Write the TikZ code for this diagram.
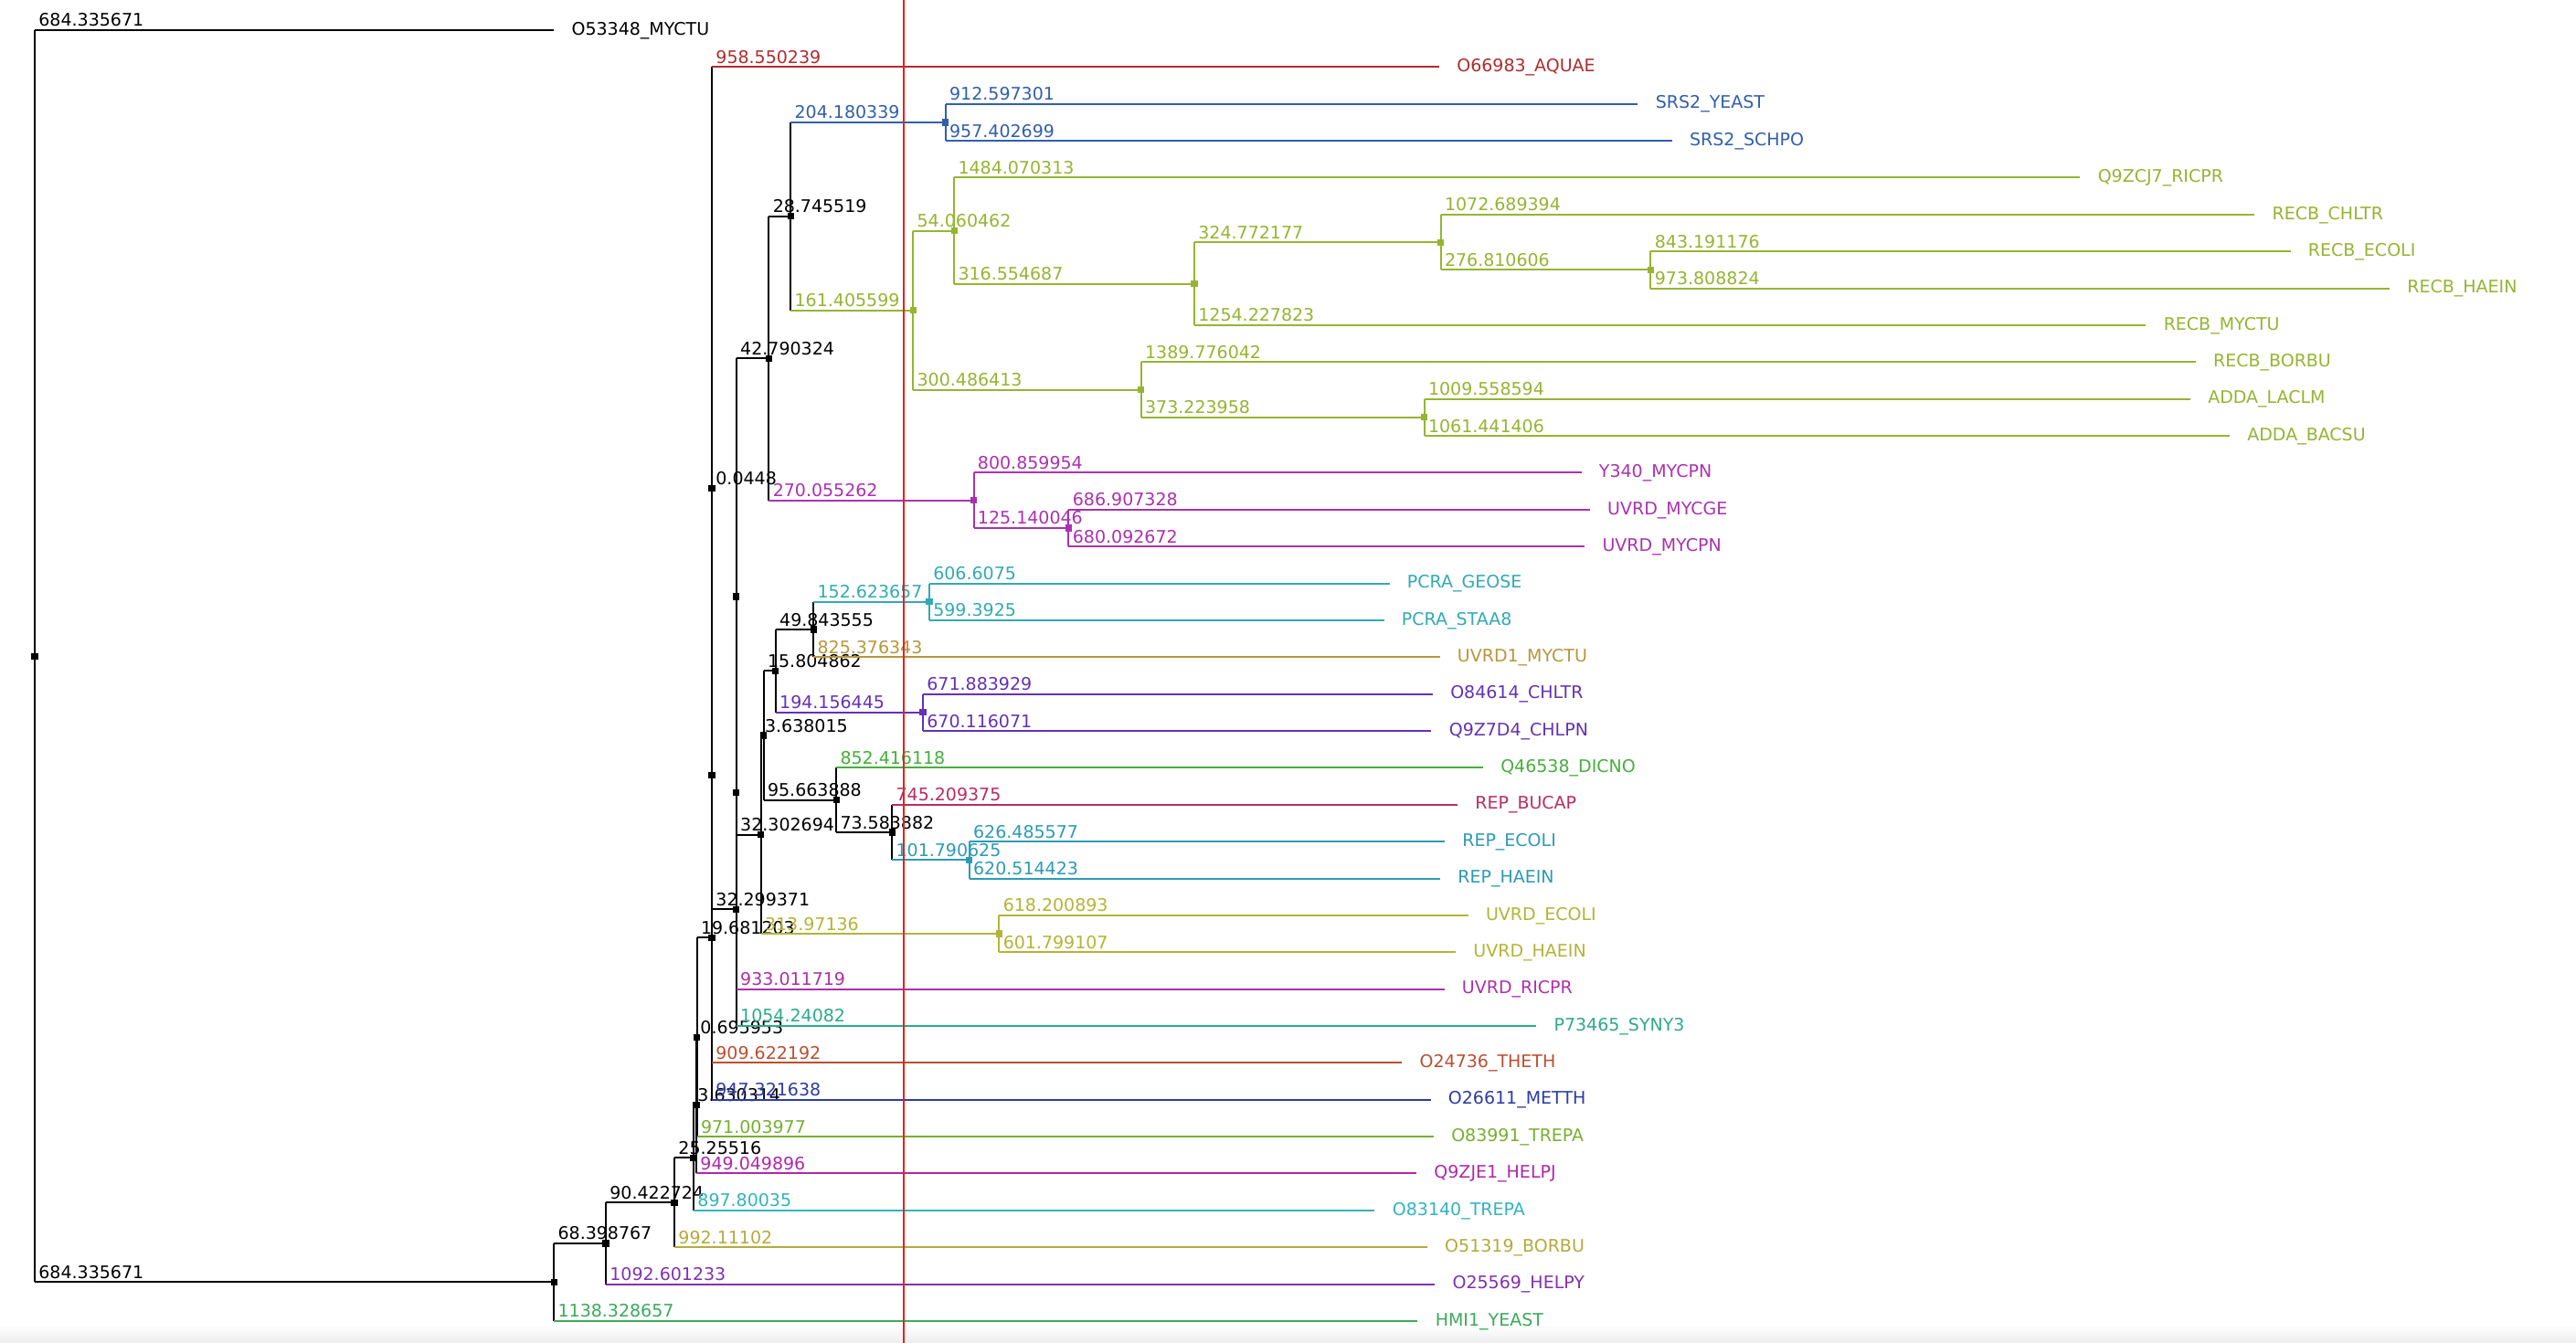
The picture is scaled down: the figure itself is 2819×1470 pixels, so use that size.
\documentclass[tikz,border=0pt]{standalone}
\usepackage{fontspec}
\setmainfont{DejaVu Sans}
\newcommand{\lblfont}{\fontsize{9.5}{11}\selectfont}
\definecolor{cAq}{RGB}{175,45,45}
\definecolor{cBlue}{RGB}{50,95,170}
\definecolor{cRecb}{RGB}{150,180,50}
\definecolor{cMyc}{RGB}{170,50,175}
\definecolor{cPcra}{RGB}{50,170,180}
\definecolor{cUvrdone}{RGB}{185,150,60}
\definecolor{cChl}{RGB}{100,50,180}
\definecolor{cDic}{RGB}{70,175,60}
\definecolor{cBuc}{RGB}{185,45,100}
\definecolor{cRep}{RGB}{45,155,180}
\definecolor{cUvrde}{RGB}{180,180,55}
\definecolor{cRic}{RGB}{170,50,170}
\definecolor{cSyn}{RGB}{45,170,140}
\definecolor{cThe}{RGB}{185,80,50}
\definecolor{cMet}{RGB}{45,60,165}
\definecolor{cTreA}{RGB}{120,175,50}
\definecolor{cHelpj}{RGB}{175,40,170}
\definecolor{cTreB}{RGB}{50,180,190}
\definecolor{cBor}{RGB}{180,170,60}
\definecolor{cHelpy}{RGB}{130,50,175}
\definecolor{cHmi}{RGB}{60,170,90}
\definecolor{cCut}{RGB}{235,30,30}
% tree helpers
\newcommand{\tnode}[3]{\coordinate (#1) at (#2,#3);}
\newcommand{\tleaf}[5]{\coordinate (#1) at (#2,#3);
  \node[leaflab=#4] (#1-name) at (#1) {#5};}
\newcommand{\tvert}[4]{\draw[br,#4] (#1 |- #2) -- (#1 |- #3);}
\newcommand{\tedge}[4]{\draw[br,#3] (#1 |- #2) -- (#2);
  \node[blab=#3] (#2-bl) at (#1 |- #2) {#4};}
\newcommand{\tedgez}[3]{\draw[br,#3] (#1 |- #2) -- (#2);}
\newcommand{\tsq}[2]{\node[sq=#2] (#1-sq) at (#1) {};}
\begin{document}
\begin{tikzpicture}[x=0.5pt,y=-0.5pt,
  br/.style={line width=1pt},
  sq/.style={fill=#1, draw=none, rectangle, inner sep=0pt, minimum size=3.6pt},
  blab/.style={text=#1, anchor=base west, inner sep=0pt, xshift=2pt, yshift=2pt, font=\lblfont},
  leaflab/.style={text=#1, anchor=base west, inner sep=0pt, xshift=9.5pt, yshift=-2.6pt, font=\lblfont},
  cutline/.style={draw=cCut, line width=1pt}]
\fill[white] (0,0) rectangle (2819,1470);
\shade[top color=white, bottom color=black!7] (0,1450) rectangle (2819,1470);
\useasboundingbox (0,0) rectangle (2819,1470);

\begin{scope}[xshift=19pt, yshift=-16.5pt, x=0.41515pt, y=-20.185pt]
% internal nodes
\tnode{root}{0}{16.9735}
\tnode{N1}{684.335671}{33.9470}
\tnode{N2}{752.734438}{32.8939}
\tnode{N3}{843.157162}{31.7878}
\tnode{N4}{868.412322}{30.5756}
\tnode{N5}{872.042636}{29.1512}
\tnode{D}{872.738589}{27.3024}
\tnode{C}{892.419792}{24.6049}
\tnode{Q}{892.419792}{20.2097}
\tnode{E}{892.464592}{12.4194}
\tnode{F}{924.763963}{23.8389}
\tnode{P2}{924.763963}{20.6777}
\tnode{P1}{924.763963}{15.3555}
\tnode{G}{967.554287}{8.8984}
\tnode{I}{996.299806}{5.0469}
\tnode{K}{1200.480145}{2.5}
\tnode{L}{1157.705405}{7.5938}
\tnode{M}{1211.765867}{5.4375}
\tnode{S}{1528.320554}{6.875}
\tnode{T}{1853.092731}{5.75}
\tnode{U}{2129.903337}{6.5}
\tnode{R}{1458.191818}{9.75}
\tnode{V}{1831.415776}{10.5}
\tnode{J}{1237.609549}{12.75}
\tnode{W}{1362.749595}{13.5}
\tnode{H}{957.066657}{21.8125}
\tnode{X}{960.704672}{19.125}
\tnode{Z}{976.509534}{17.375}
\tnode{AB}{1026.353089}{16.25}
\tnode{AD}{1178.976746}{15.5}
\tnode{AC}{1170.665979}{18.5}
\tnode{AA}{1056.36856}{20.875}
\tnode{AE}{1129.952442}{21.75}
\tnode{AF}{1231.743067}{22.5}
\tnode{Y}{1271.038017}{24.5}
% leaves
\tleaf{l0}{684.335671}{0}{black}{O53348\_MYCTU}
\tleaf{l1}{1851.014831}{1}{cAq}{O66983\_AQUAE}
\tleaf{l2}{2113.077446}{2}{cBlue}{SRS2\_YEAST}
\tleaf{l3}{2157.882844}{3}{cBlue}{SRS2\_SCHPO}
\tleaf{l4}{2695.83618}{4}{cRecb}{Q9ZCJ7\_RICPR}
\tleaf{l5}{2925.782125}{5}{cRecb}{RECB\_CHLTR}
\tleaf{l6}{2973.094513}{6}{cRecb}{RECB\_ECOLI}
\tleaf{l7}{3103.712161}{7}{cRecb}{RECB\_HAEIN}
\tleaf{l8}{2782.548377}{8}{cRecb}{RECB\_MYCTU}
\tleaf{l9}{2847.96786}{9}{cRecb}{RECB\_BORBU}
\tleaf{l10}{2840.97437}{10}{cRecb}{ADDA\_LACLM}
\tleaf{l11}{2892.857182}{11}{cRecb}{ADDA\_BACSU}
\tleaf{l12}{2038.469503}{12}{cMyc}{Y340\_MYCPN}
\tleaf{l13}{2049.656923}{13}{cMyc}{UVRD\_MYCGE}
\tleaf{l14}{2042.842267}{14}{cMyc}{UVRD\_MYCPN}
\tleaf{l15}{1785.584246}{15}{cPcra}{PCRA\_GEOSE}
\tleaf{l16}{1778.369246}{16}{cPcra}{PCRA\_STAA8}
\tleaf{l17}{1851.729432}{17}{cUvrdone}{UVRD1\_MYCTU}
\tleaf{l18}{1842.549908}{18}{cChl}{O84614\_CHLTR}
\tleaf{l19}{1840.78205}{19}{cChl}{Q9Z7D4\_CHLPN}
\tleaf{l20}{1908.784678}{20}{cDic}{Q46538\_DICNO}
\tleaf{l21}{1875.161817}{21}{cBuc}{REP\_BUCAP}
\tleaf{l22}{1858.228644}{22}{cRep}{REP\_ECOLI}
\tleaf{l23}{1852.25749}{23}{cRep}{REP\_HAEIN}
\tleaf{l24}{1889.23891}{24}{cUvrde}{UVRD\_ECOLI}
\tleaf{l25}{1872.837124}{25}{cUvrde}{UVRD\_HAEIN}
\tleaf{l26}{1857.775682}{26}{cRic}{UVRD\_RICPR}
\tleaf{l27}{1979.004783}{27}{cSyn}{P73465\_SYNY3}
\tleaf{l28}{1802.041984}{28}{cThe}{O24736\_THETH}
\tleaf{l29}{1839.74143}{29}{cMet}{O26611\_METTH}
\tleaf{l30}{1843.742566}{30}{cTreA}{O83991\_TREPA}
\tleaf{l31}{1821.092532}{31}{cHelpj}{Q9ZJE1\_HELPJ}
\tleaf{l32}{1766.212672}{32}{cTreB}{O83140\_TREPA}
\tleaf{l33}{1835.268182}{33}{cBor}{O51319\_BORBU}
\tleaf{l34}{1845.335671}{34}{cHelpy}{O25569\_HELPY}
\tleaf{l35}{1822.664328}{35}{cHmi}{HMI1\_YEAST}
% verticals
\tvert{root}{l0}{N1}{black}
\tvert{N1}{N2}{l35}{black}
\tvert{N2}{N3}{l34}{black}
\tvert{N3}{N4}{l33}{black}
\tvert{N4}{N5}{l32}{black}
\tvert{N5}{D}{l31}{black}
\tvert{D}{C}{l30}{black}
\tvert{C}{Q}{l29}{black}
\tvert{Q}{E}{l28}{black}
\tvert{E}{l1}{F}{black}
\tvert{F}{P2}{l27}{black}
\tvert{P2}{P1}{l26}{black}
\tvert{P1}{G}{H}{black}
\tvert{G}{I}{J}{black}
\tvert{I}{K}{L}{black}
\tvert{K}{l2}{l3}{cBlue}
\tvert{L}{M}{R}{cRecb}
\tvert{M}{l4}{S}{cRecb}
\tvert{S}{T}{l8}{cRecb}
\tvert{T}{l5}{U}{cRecb}
\tvert{U}{l6}{l7}{cRecb}
\tvert{R}{l9}{V}{cRecb}
\tvert{V}{l10}{l11}{cRecb}
\tvert{J}{l12}{W}{cMyc}
\tvert{W}{l13}{l14}{cMyc}
\tvert{H}{X}{Y}{black}
\tvert{X}{Z}{AA}{black}
\tvert{Z}{AB}{AC}{black}
\tvert{AB}{AD}{l17}{black}
\tvert{AD}{l15}{l16}{cPcra}
\tvert{AC}{l18}{l19}{cChl}
\tvert{AA}{l20}{AE}{black}
\tvert{AE}{l21}{AF}{black}
\tvert{AF}{l22}{l23}{cRep}
\tvert{Y}{l24}{l25}{cUvrde}
% edges
\tedge{root}{l0}{black}{684.335671}
\tedge{root}{N1}{black}{684.335671}
\tedge{N1}{N2}{black}{68.398767}
\tedge{N1}{l35}{cHmi}{1138.328657}
\tedge{N2}{N3}{black}{90.422724}
\tedge{N2}{l34}{cHelpy}{1092.601233}
\tedge{N3}{N4}{black}{25.25516}
\tedge{N3}{l33}{cBor}{992.11102}
\tedge{N4}{N5}{black}{3.630314}
\tedge{N4}{l32}{cTreB}{897.80035}
\tedge{N5}{D}{black}{0.695953}
\tedge{N5}{l31}{cHelpj}{949.049896}
\tedge{D}{C}{black}{19.681203}
\tedge{D}{l30}{cTreA}{971.003977}
\tedgez{C}{Q}{black}
\tedge{C}{l29}{cMet}{947.321638}
\tedge{Q}{E}{black}{0.0448}
\tedge{Q}{l28}{cThe}{909.622192}
\tedge{E}{l1}{cAq}{958.550239}
\tedge{E}{F}{black}{32.299371}
\tedgez{F}{P2}{black}
\tedge{F}{l27}{cSyn}{1054.24082}
\tedgez{P2}{P1}{black}
\tedge{P2}{l26}{cRic}{933.011719}
\tedge{P1}{G}{black}{42.790324}
\tedge{P1}{H}{black}{32.302694}
\tedge{G}{I}{black}{28.745519}
\tedge{G}{J}{cMyc}{270.055262}
\tedge{I}{K}{cBlue}{204.180339}
\tedge{I}{L}{cRecb}{161.405599}
\tedge{K}{l2}{cBlue}{912.597301}
\tedge{K}{l3}{cBlue}{957.402699}
\tedge{L}{M}{cRecb}{54.060462}
\tedge{L}{R}{cRecb}{300.486413}
\tedge{M}{l4}{cRecb}{1484.070313}
\tedge{M}{S}{cRecb}{316.554687}
\tedge{S}{T}{cRecb}{324.772177}
\tedge{S}{l8}{cRecb}{1254.227823}
\tedge{T}{l5}{cRecb}{1072.689394}
\tedge{T}{U}{cRecb}{276.810606}
\tedge{U}{l6}{cRecb}{843.191176}
\tedge{U}{l7}{cRecb}{973.808824}
\tedge{R}{l9}{cRecb}{1389.776042}
\tedge{R}{V}{cRecb}{373.223958}
\tedge{V}{l10}{cRecb}{1009.558594}
\tedge{V}{l11}{cRecb}{1061.441406}
\tedge{J}{l12}{cMyc}{800.859954}
\tedge{J}{W}{cMyc}{125.140046}
\tedge{W}{l13}{cMyc}{686.907328}
\tedge{W}{l14}{cMyc}{680.092672}
\tedge{H}{X}{black}{3.638015}
\tedge{H}{Y}{cUvrde}{313.97136}
\tedge{X}{Z}{black}{15.804862}
\tedge{X}{AA}{black}{95.663888}
\tedge{Z}{AB}{black}{49.843555}
\tedge{Z}{AC}{cChl}{194.156445}
\tedge{AB}{AD}{cPcra}{152.623657}
\tedge{AB}{l17}{cUvrdone}{825.376343}
\tedge{AD}{l15}{cPcra}{606.6075}
\tedge{AD}{l16}{cPcra}{599.3925}
\tedge{AC}{l18}{cChl}{671.883929}
\tedge{AC}{l19}{cChl}{670.116071}
\tedge{AA}{l20}{cDic}{852.416118}
\tedge{AA}{AE}{black}{73.583882}
\tedge{AE}{l21}{cBuc}{745.209375}
\tedge{AE}{AF}{cRep}{101.790625}
\tedge{AF}{l22}{cRep}{626.485577}
\tedge{AF}{l23}{cRep}{620.514423}
\tedge{Y}{l24}{cUvrde}{618.200893}
\tedge{Y}{l25}{cUvrde}{601.799107}
% node squares
\tsq{root}{black}\tsq{N1}{black}\tsq{N2}{black}\tsq{N3}{black}
\tsq{N4}{black}\tsq{N5}{black}\tsq{D}{black}\tsq{C}{black}
\tsq{Q}{black}\tsq{E}{black}\tsq{F}{black}\tsq{P2}{black}
\tsq{P1}{black}\tsq{G}{black}\tsq{I}{black}\tsq{K}{cBlue}
\tsq{L}{cRecb}\tsq{M}{cRecb}\tsq{S}{cRecb}\tsq{T}{cRecb}
\tsq{U}{cRecb}\tsq{R}{cRecb}\tsq{V}{cRecb}\tsq{J}{cMyc}
\tsq{W}{cMyc}\tsq{H}{black}\tsq{X}{black}\tsq{Z}{black}
\tsq{AB}{black}\tsq{AD}{cPcra}\tsq{AC}{cChl}\tsq{AA}{black}
\tsq{AE}{black}\tsq{AF}{cRep}\tsq{Y}{cUvrde}
\end{scope}

% vertical cut line
\coordinate (cutTop) at (989,0);
\coordinate (cutBot) at (989,1470);
\draw[cutline] (cutTop) -- (cutBot);
\end{tikzpicture}
\end{document}
